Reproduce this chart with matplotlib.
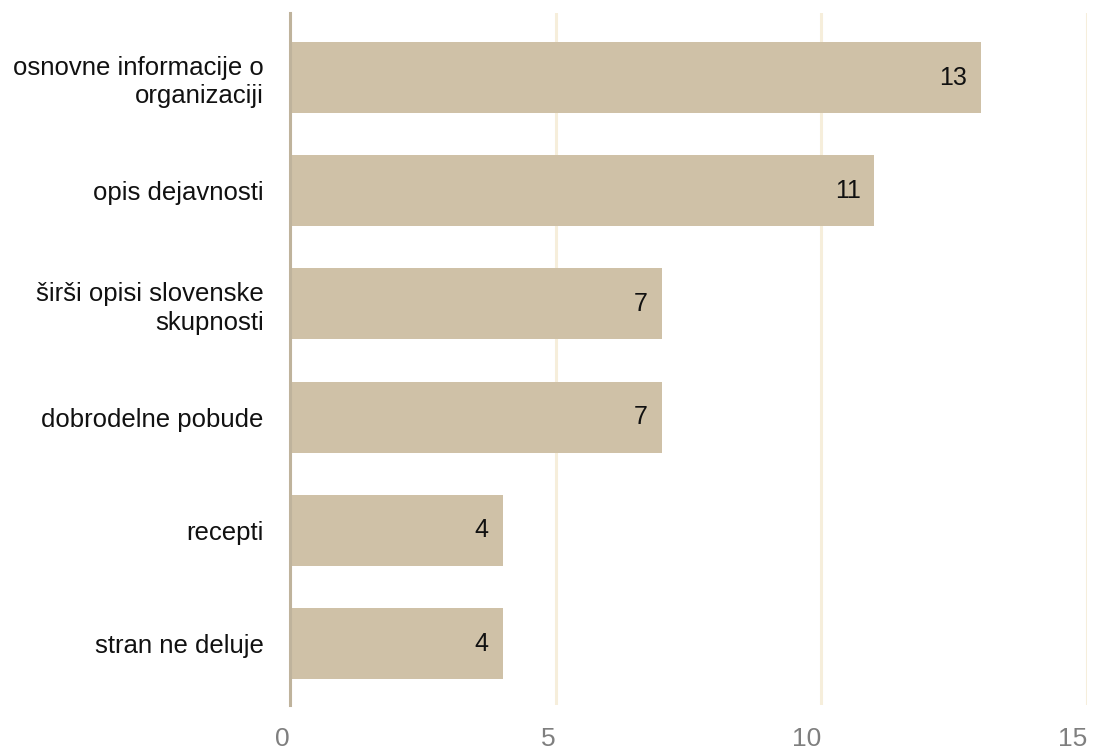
import matplotlib.pyplot as plt
from matplotlib.ticker import FixedLocator

plt.rcParams['font.family'] = ['Liberation Sans', 'DejaVu Sans']

categories = [
    "osnovne informacije o\norganizaciji",
    "opis dejavnosti",
    "širši opisi slovenske\nskupnosti",
    "dobrodelne pobude",
    "recepti",
    "stran ne deluje",
]
values = [13, 11, 7, 7, 4, 4]
x_ticks = [0, 5, 10, 15]

bar_color = "#cfc1a7"
grid_color = "#f6eedb"
axis_color = "#bfb39c"

fig = plt.figure(figsize=(10.94, 7.51), dpi=100)
ax = fig.add_axes([290 / 1094, 1 - 705 / 751, (1087 - 290) / 1094, (705 - 13) / 751])

ypos = list(range(len(categories)))
ax.barh(ypos, values, height=0.627, color=bar_color, zorder=2)

for y, v in zip(ypos, values):
    ax.text(v - 0.26, y, str(v), ha="right", va="center", fontsize=18,
            color="#111111", zorder=3)

ax.set_xlim(0, 15)
ax.set_ylim(5.543, -0.57)
ax.xaxis.set_major_locator(FixedLocator(x_ticks))
ax.set_xticklabels([str(t) for t in x_ticks], ha="right")
ax.set_yticks(ypos)
ax.set_yticklabels(categories, fontsize=18.5, color="#111111", linespacing=1.22)

ax.grid(axis="x", color=grid_color, linewidth=2.2, zorder=0)
ax.grid(axis="y", visible=False)
for side in ("top", "right", "bottom"):
    ax.spines[side].set_visible(False)
ax.spines["left"].set_color(axis_color)
ax.spines["left"].set_linewidth(2.2)
ax.spines["left"].set_zorder(4)

ax.tick_params(axis="x", length=0, labelsize=19, labelcolor="#7f7f7f", pad=16)
ax.tick_params(axis="y", length=0, pad=19)

fig.savefig("out.png", dpi=100)
